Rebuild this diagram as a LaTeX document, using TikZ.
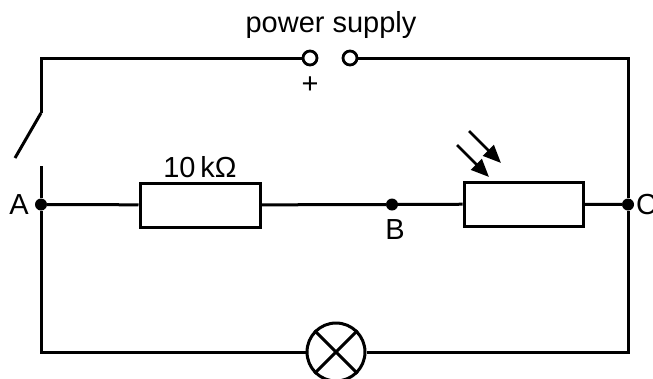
\documentclass[tikz,border=0pt]{standalone}
\usepackage{fontspec}
\setmainfont{Liberation Sans}
\usetikzlibrary{arrows.meta}

\tikzset{
Wire/.style={draw=black, line width=3pt, line join=miter},
Res/.style={draw=black, rectangle, inner sep=0pt, minimum width=120pt,
        minimum height=44pt, line width=3pt},
Dot/.style={fill=black, circle, inner sep=0pt, minimum size=12pt},
Term/.style={draw=black, fill=white, circle, inner sep=0pt, minimum size=14pt, line width=2.8pt},
Lamp/.style={draw=black, circle, inner sep=0pt, minimum size=58pt, line width=3pt},
LightArrow/.style={arrows={-Triangle[length=18pt,width=15pt]}, line width=2.8pt},
CircuitLabel/.style={font=\fontsize{29}{32}\selectfont, inner sep=0pt},
}

\begin{document}
\begin{tikzpicture}[x=1pt,y=-1pt]
	\useasboundingbox (0,0) rectangle (653,378);
	% corners and switch
	\coordinate (TL) at (41,58);
	\coordinate (TR) at (628,58);
	\coordinate (BL) at (41,352);
	\coordinate (BR) at (628,352);
	\coordinate (S1) at (41,113);
	\coordinate (S2) at (15,158);
	\coordinate (S3) at (41,166);
	% components
	\node[Term] (T1) at (310,58) {};
	\node[Term] (T2) at (350,58) {};
	\node[Res] (R1) at (200,205) {};
	\node[Res, minimum width=119pt] (LDR) at (523.5,204) {};
	\node[Lamp] (L1) at (336,352) {};
	\foreach \name/\x in {A/41,B/392,C/628}
		\node[Dot] (\name) at (\x,204.5) {};

	\draw[Wire] (S1) -- (TL) -- (T1);
	\draw[Wire] (T2) -- (TR) -- (C) -- (BR) -- (L1);
	\draw[Wire] (L1) -- (BL) -- (A) -- (S3);
	\draw[Wire] (S1) -- (S2);
	\draw[Wire] (A) -- (R1) -- (B) -- (LDR) -- (C);
	\draw[Wire] (L1.45) -- (L1.225);
	\draw[Wire] (L1.135) -- (L1.315);

	% light on the LDR
	\foreach \i/\x/\y in {1/457/145,2/469/131}{
		\coordinate (ArrS\i) at (\x,\y);
		\coordinate (ArrE\i) at (\x+32,\y+32);
		\draw[LightArrow] (ArrS\i) -- (ArrE\i);
	}

	\node[CircuitLabel] (PS) at (331,25) {power supply};
	\node[CircuitLabel] (Plus) at (310,85) {+};
	\node[CircuitLabel] (RLabel) at (200,167) {10\,kΩ};
	\node[CircuitLabel, anchor=east] (ALabel) at (29,205) {A};
	\node[CircuitLabel] (BLabel) at (395,230) {B};
	\node[CircuitLabel, anchor=west] (CLabel) at (636,205) {C};
\end{tikzpicture}
\end{document}
